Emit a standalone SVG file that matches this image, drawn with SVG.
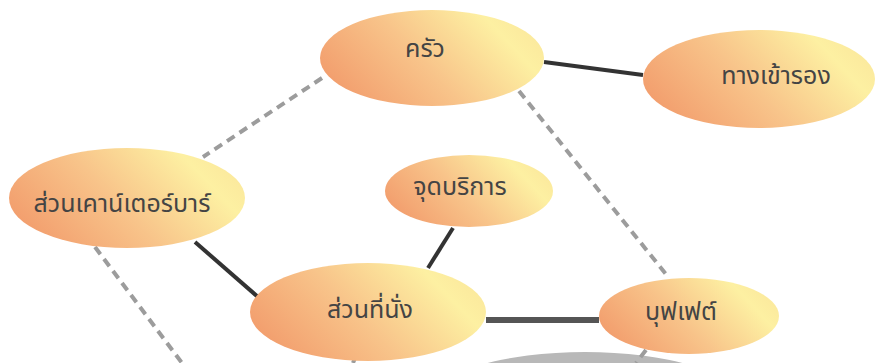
<svg xmlns="http://www.w3.org/2000/svg" width="876" height="363" viewBox="0 0 876 363">
<defs>
<linearGradient id="g" x1="0" y1="0.7" x2="1" y2="0.3">
<stop offset="0" stop-color="#f29c6c"/>
<stop offset="0.45" stop-color="#f8c48a"/>
<stop offset="0.85" stop-color="#fdf0a2"/>
<stop offset="1" stop-color="#fbe89c"/>
</linearGradient>
<style>
.n{fill:url(#g);}
.t{font-family:"Noto Sans Thai","Noto Sans","DejaVu Sans","Liberation Sans",sans-serif;font-size:25px;fill:#444;text-anchor:middle;dominant-baseline:central;}
.d{stroke:#9c9c9c;stroke-width:4;stroke-dasharray:9 6;fill:none;}
.s{stroke:#333;stroke-width:4;fill:none;}
</style>
</defs>
<rect width="876" height="363" fill="#fff"/>
<ellipse cx="585" cy="398" rx="150" ry="46" fill="#b8b8b8"/>
<g id="connectors">
<line class="d" x1="322" y1="78" x2="203" y2="157"/>
<line class="d" x1="519" y1="91" x2="669" y2="278"/>
<line class="d" x1="95" y1="247" x2="182" y2="363"/>
<line class="d" x1="646" y1="350" x2="636" y2="363"/>
<line class="d" x1="355" y1="358" x2="353" y2="363"/>
<line class="s" x1="544" y1="62" x2="643" y2="75"/>
<line class="s" x1="195" y1="242" x2="258" y2="297"/>
<line class="s" x1="453" y1="228" x2="428" y2="268"/>
<line stroke="#555" stroke-width="6" x1="486" y1="320" x2="599" y2="320"/>
</g>
<g id="kitchen"><ellipse class="n" cx="432" cy="58" rx="112" ry="48"/><text class="t" x="425" y="49">ครัว</text></g>
<g id="side-entrance"><ellipse class="n" cx="759" cy="79" rx="116" ry="49"/><text class="t" x="776" y="76">ทางเข้ารอง</text></g>
<g id="counter-bar"><ellipse class="n" cx="127" cy="198" rx="118" ry="50"/><text class="t" x="122" y="204">ส่วนเคาน์เตอร์บาร์</text></g>
<g id="service-point"><ellipse class="n" cx="469" cy="191" rx="84" ry="36"/><text class="t" x="460" y="187">จุดบริการ</text></g>
<g id="seating"><ellipse class="n" cx="368" cy="312" rx="118" ry="49"/><text class="t" x="370" y="310">ส่วนที่นั่ง</text></g>
<g id="buffet"><ellipse class="n" cx="689" cy="316" rx="90" ry="38"/><text class="t" x="681" y="312">บุฟเฟต์</text></g>
</svg>
